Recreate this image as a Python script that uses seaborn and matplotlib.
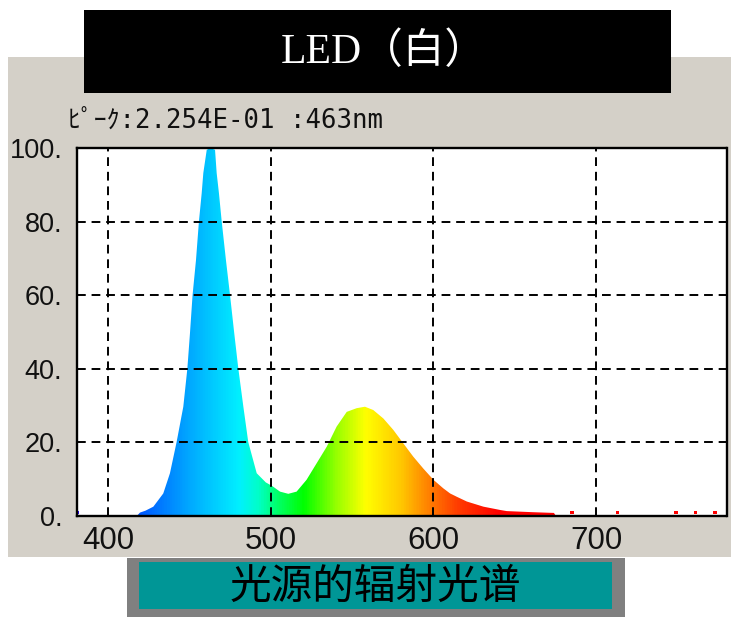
import numpy as np
import pandas as pd
import matplotlib
matplotlib.use("Agg")
import matplotlib.pyplot as plt
from matplotlib.colors import LinearSegmentedColormap
from matplotlib.patches import Rectangle
import seaborn as sns

# Relative spectral power of a white LED (percent of the 463 nm peak)
wavelength_nm = [380, 418, 419.7, 423, 427.9, 434, 438.1, 442.2, 446.3, 448.8, 450.4,
                 452.0, 454.1, 455.9, 457.6, 458.6, 460.7, 463, 465.8, 466.8, 468.2,
                 469.9, 472.5, 475.0, 477.6, 480.1, 483.2, 486.2, 491.4, 497, 501,
                 505.7, 510.8, 515.9, 522, 528.2, 534.4, 540.5, 546.7, 552.8, 557.9,
                 563, 569.2, 575.3, 581.5, 587.6, 593.7, 600, 606, 610.2, 614.3,
                 620.5, 630.7, 641, 645, 661, 674, 675, 780]
relative_intensity = [0, 0, 0.8, 1.3, 2.4, 6.0, 11.5, 20, 29.6, 40, 49.6,
                      60, 69.5, 80, 87.7, 93.2, 99.5, 100, 99.5, 93.2, 87.7,
                      80, 69.5, 60, 49.6, 40, 29.6, 20, 11.5, 9.0, 8.0,
                      6.5, 5.9, 6.5, 9.7, 14.2, 18.7, 24.2, 28.2, 29.2, 29.6,
                      28.7, 26.4, 23.3, 19.6, 16, 12.8, 9.7, 7.4, 6.0, 5.1,
                      3.8, 2.4, 1.5, 1.2, 0.9, 0.7, 0, 0]

# Isolated noise readings near the baseline
spike_nm = [381, 685, 713, 749, 761, 773]
spike_level = [0.8, 0.8, 0.8, 0.8, 0.8, 0.8]

x_ticks = [400, 500, 600, 700]
x_tick_labels = ["400", "500", "600", "700"]
y_ticks = [0, 20, 40, 60, 80, 100]
y_tick_labels = ["0.", "20.", "40.", "60.", "80.", "100."]

title_text = "LED（白）"
peak_text = "ﾋﾟｰｸ:2.254E-01 :463nm"
caption_text = "光源的辐射光谱"

# wavelength -> display colour
color_stops_nm = [380, 420, 450, 463, 480, 492, 503, 520, 540, 558, 580, 600, 615, 640, 780]
color_stops_rgb = [(40, 0, 255), (0, 90, 255), (0, 170, 255), (0, 200, 255), (0, 240, 255),
                   (0, 255, 200), (0, 255, 110), (0, 255, 0), (150, 255, 0), (255, 255, 0),
                   (255, 200, 0), (255, 115, 0), (255, 60, 0), (255, 0, 0), (255, 0, 0)]

X_MIN, X_MAX = 381, 780
W, H = 731, 617

sns.set_style("white")
plt.rcParams["font.family"] = ["DejaVu Sans", "Noto Sans CJK JP"]

lo, hi = color_stops_nm[0], color_stops_nm[-1]
spectrum_cmap = LinearSegmentedColormap.from_list(
    "spectrum",
    [((n - lo) / (hi - lo), tuple(c / 255 for c in rgb))
     for n, rgb in zip(color_stops_nm, color_stops_rgb)])

fig = plt.figure(figsize=(W / 100, H / 100), dpi=100)
fig.patch.set_facecolor("white")


def px_box(x0, y0, x1, y1, color, z=0):
    r = Rectangle((x0 / W, 1 - y1 / H), (x1 - x0) / W, (y1 - y0) / H,
                  transform=fig.transFigure, facecolor=color, edgecolor="none", zorder=z)
    fig.add_artist(r)
    return r


# instrument window background
px_box(8, 57, 731, 557, "#d4d0c8", z=0)
# title banner
px_box(84, 10, 671, 93, "black", z=5)
# caption plate
px_box(127, 558, 625, 617, "#808080", z=5)
px_box(139, 562, 612, 609, "#009696", z=6)

ax = fig.add_axes([77 / W, 1 - 515.5 / H, 649.5 / W, 367.5 / H])
ax.set_facecolor("white")

df = pd.DataFrame({"nm": wavelength_nm, "val": relative_intensity})

# area under the spectrum, painted with the wavelength colour ramp
area = ax.fill_between(df["nm"], 0, df["val"], facecolor="none", edgecolor="none")
ramp = np.linspace(lo, hi, 1200).reshape(1, -1)
img = ax.imshow(ramp, extent=[lo, hi, 0, 100], origin="lower", aspect="auto",
                cmap=spectrum_cmap, vmin=lo, vmax=hi, interpolation="bilinear", zorder=1)
img.set_clip_path(area.get_paths()[0], ax.transData)

spikes = pd.DataFrame({"nm": spike_nm, "val": spike_level})
spike_colors = [spectrum_cmap((n - lo) / (hi - lo)) for n in spike_nm]
sns.scatterplot(data=spikes, x="nm", y="val", ax=ax, marker="s", s=6,
                c=spike_colors, edgecolor="none", linewidth=0, zorder=2, legend=False)

ax.set_xlim(X_MIN, X_MAX)
ax.set_ylim(0, 100)
ax.set_xlabel("")
ax.set_ylabel("")

ax.set_xticks(x_ticks)
ax.set_xticklabels(x_tick_labels)
ax.set_yticks(y_ticks)
ax.set_yticklabels(y_tick_labels)

ax.grid(True, color="black", linestyle=(0, (4.5, 3)), linewidth=1.4, zorder=3)
ax.set_axisbelow(False)
for gl in ax.get_xgridlines() + ax.get_ygridlines():
    gl.set_zorder(3)

for s in ax.spines.values():
    s.set_visible(True)
    s.set_color("black")
    s.set_linewidth(1.7)
    s.set_zorder(4)

tick_font = ["Liberation Sans", "DejaVu Sans"]
ax.tick_params(axis="y", direction="out", length=6.5, width=1.4, pad=4,
               colors="black", labelsize=19.5)
ax.tick_params(axis="x", direction="out", length=4.5, width=1.4, pad=3,
               colors="black", labelsize=22.5)
for lbl in ax.get_xticklabels() + ax.get_yticklabels():
    lbl.set_fontfamily(tick_font)
    lbl.set_color("#111111")

fig.text(384 / W, 1 - 52 / H, title_text, color="white", fontsize=30,
         family=["Liberation Serif", "Noto Sans CJK SC"],
         ha="center", va="center", zorder=7)
fig.text(68 / W, 1 - 121 / H, peak_text, color="#111111", fontsize=18.5,
         family=["DejaVu Sans Mono", "Noto Sans CJK JP"], ha="left", va="center", zorder=7)
fig.text(375 / W, 1 - 587 / H, caption_text, color="black", fontsize=30,
         family=["Noto Sans CJK SC"],
         ha="center", va="center", zorder=7)

fig.savefig("out.png", dpi=100, facecolor="white")
